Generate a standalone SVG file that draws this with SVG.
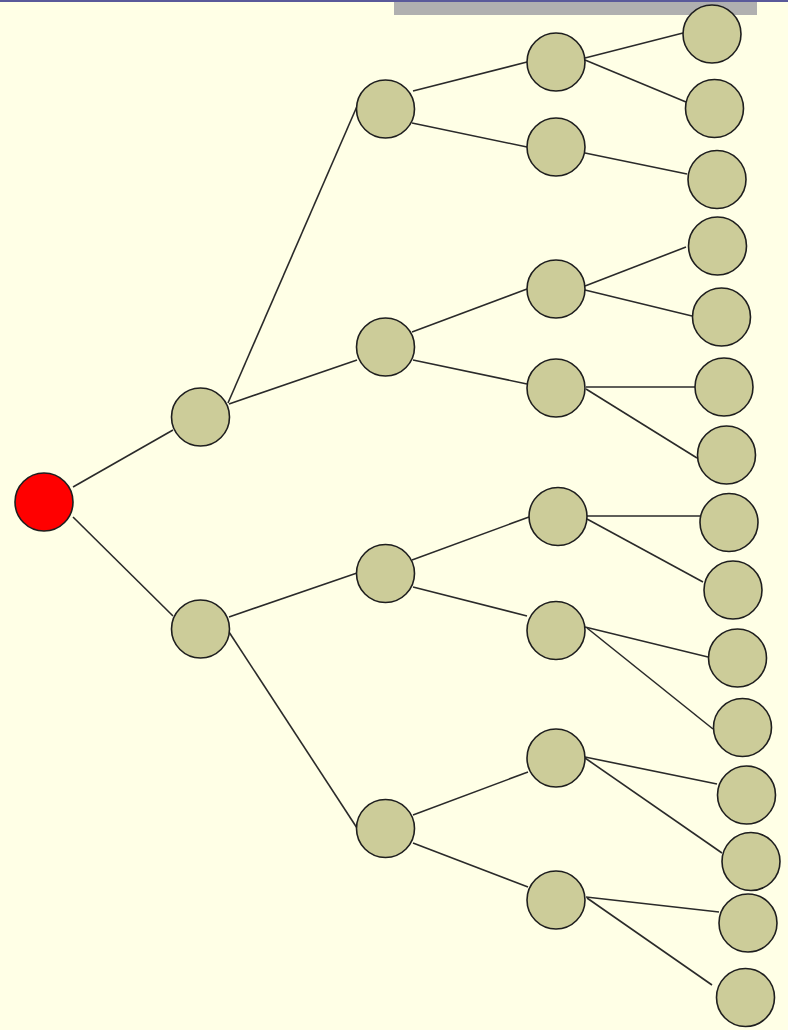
<svg xmlns="http://www.w3.org/2000/svg" width="788" height="1030" viewBox="0 0 788 1030">
<style>
.e{stroke:#2a2a2a;stroke-width:1.6;fill:none}
.n{fill:#CCCC99;stroke:#1e1e1e;stroke-width:1.6}
.r{fill:#FF0000;stroke:#1e1e1e;stroke-width:1.6}
</style>
<rect x="0" y="0" width="788" height="1030" fill="#FFFFE6"/>
<rect x="394" y="0" width="363" height="15" fill="#B0B0B0"/>
<rect x="0" y="0" width="788" height="2" fill="#5A5A9A"/>
<g id="connectors">
<line class="e" x1="73" y1="487" x2="173" y2="430"/>
<line class="e" x1="73" y1="517" x2="173" y2="616"/>
<line class="e" x1="228" y1="403" x2="358" y2="104"/>
<line class="e" x1="229" y1="404" x2="357" y2="360"/>
<line class="e" x1="229" y1="617" x2="357" y2="573"/>
<line class="e" x1="229" y1="632" x2="357" y2="828"/>
<line class="e" x1="413" y1="91" x2="527" y2="62"/>
<line class="e" x1="412" y1="123" x2="527" y2="147"/>
<line class="e" x1="412" y1="332" x2="527" y2="289"/>
<line class="e" x1="413" y1="360" x2="527" y2="384"/>
<line class="e" x1="412" y1="560" x2="529" y2="517"/>
<line class="e" x1="413" y1="587" x2="527" y2="616"/>
<line class="e" x1="413" y1="815" x2="528" y2="772"/>
<line class="e" x1="413" y1="843" x2="528" y2="887"/>
<line class="e" x1="585" y1="58" x2="683" y2="33"/>
<line class="e" x1="585" y1="60" x2="686" y2="102"/>
<line class="e" x1="585" y1="153" x2="687" y2="174"/>
<line class="e" x1="585" y1="286" x2="686" y2="247"/>
<line class="e" x1="585" y1="290" x2="692" y2="316"/>
<line class="e" x1="586" y1="387" x2="695" y2="387"/>
<line class="e" x1="586" y1="389" x2="697" y2="458"/>
<line class="e" x1="587" y1="516" x2="700" y2="516"/>
<line class="e" x1="587" y1="519" x2="703" y2="582"/>
<line class="e" x1="585" y1="627" x2="708" y2="657"/>
<line class="e" x1="587" y1="628" x2="713" y2="729"/>
<line class="e" x1="585" y1="757" x2="717" y2="784"/>
<line class="e" x1="585" y1="758" x2="722" y2="853"/>
<line class="e" x1="586" y1="897" x2="719" y2="912"/>
<line class="e" x1="587" y1="898" x2="712" y2="985"/>
</g>
<g id="root"><circle class="r" cx="44" cy="502" r="29"/></g>
<g id="n1a"><circle class="n" cx="200.5" cy="417" r="29"/></g>
<g id="n1b"><circle class="n" cx="200.5" cy="629" r="29"/></g>
<g id="n2a"><circle class="n" cx="385.5" cy="109" r="29"/></g>
<g id="n2b"><circle class="n" cx="385.5" cy="347" r="29"/></g>
<g id="n2c"><circle class="n" cx="385.5" cy="573.5" r="29"/></g>
<g id="n2d"><circle class="n" cx="385.5" cy="828.5" r="29"/></g>
<g id="n3a"><circle class="n" cx="556" cy="62" r="29"/></g>
<g id="n3b"><circle class="n" cx="556" cy="147" r="29"/></g>
<g id="n3c"><circle class="n" cx="556" cy="289" r="29"/></g>
<g id="n3d"><circle class="n" cx="556" cy="388" r="29"/></g>
<g id="n3e"><circle class="n" cx="558" cy="516.5" r="29"/></g>
<g id="n3f"><circle class="n" cx="556" cy="630.5" r="29"/></g>
<g id="n3g"><circle class="n" cx="556" cy="758" r="29"/></g>
<g id="n3h"><circle class="n" cx="556" cy="900" r="29"/></g>
<g id="l01"><circle class="n" cx="712" cy="34" r="29"/></g>
<g id="l02"><circle class="n" cx="714.5" cy="108.5" r="29"/></g>
<g id="l03"><circle class="n" cx="717" cy="179.5" r="29"/></g>
<g id="l04"><circle class="n" cx="717.5" cy="246" r="29"/></g>
<g id="l05"><circle class="n" cx="721.5" cy="317" r="29"/></g>
<g id="l06"><circle class="n" cx="724" cy="387" r="29"/></g>
<g id="l07"><circle class="n" cx="726.5" cy="455" r="29"/></g>
<g id="l08"><circle class="n" cx="729" cy="522.5" r="29"/></g>
<g id="l09"><circle class="n" cx="733" cy="590" r="29"/></g>
<g id="l10"><circle class="n" cx="737.5" cy="658" r="29"/></g>
<g id="l11"><circle class="n" cx="742.5" cy="727.5" r="29"/></g>
<g id="l12"><circle class="n" cx="746.5" cy="795" r="29"/></g>
<g id="l13"><circle class="n" cx="751" cy="861.5" r="29"/></g>
<g id="l14"><circle class="n" cx="748" cy="923" r="29"/></g>
<g id="l15"><circle class="n" cx="745.5" cy="997.5" r="29"/></g>
</svg>
